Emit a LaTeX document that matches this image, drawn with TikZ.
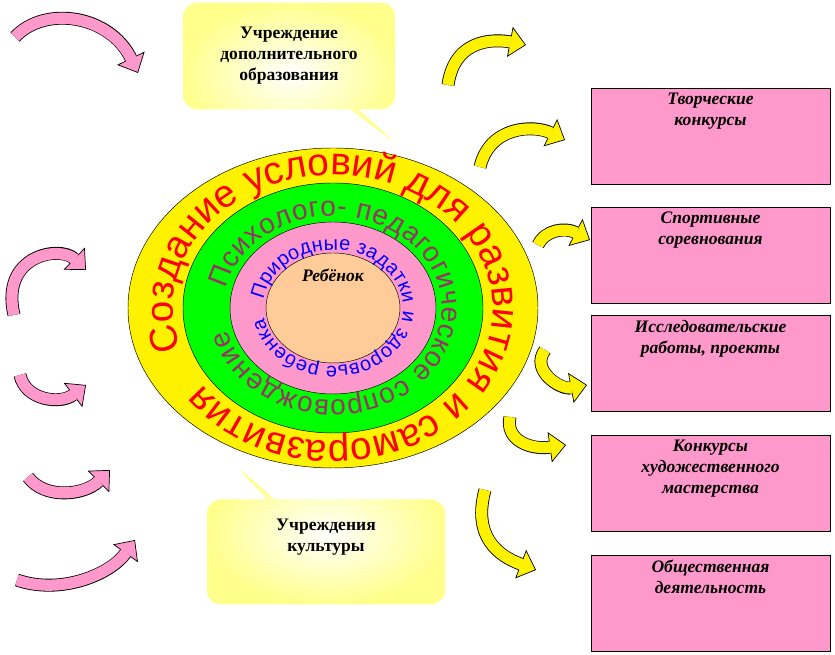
\documentclass[tikz,border=0pt]{standalone}
\usepackage{fontspec}
\setmainfont{Liberation Serif}
\newfontfamily\arialfont{Liberation Sans}
\usetikzlibrary{arrows.meta,shapes.callouts,decorations.text,positioning}
\definecolor{ringpink}{HTML}{FF99CC}
\definecolor{peach}{HTML}{FFCC99}
\definecolor{olive}{HTML}{CCCC00}
\definecolor{textpurple}{HTML}{993366}
\tikzset{
  pbox/.style={draw,fill=ringpink,minimum width=7.17cm,minimum height=2.88cm},
  btext/.style={font=\bfseries\itshape\fontsize{15}{18}\selectfont,align=center,inner sep=2pt},
  bubble/.style={rectangle callout,draw=none,rounded corners=12pt,inner color=white,outer color=yellow!45,font=\bfseries\fontsize{15}{18}\selectfont,align=center},
}
\newcommand\bentarrow[2]{%
  \draw[line width=11pt,-{Triangle[width=26pt,length=14pt,line width=0.6pt,fill=#1]}] #2;
  \draw[#1,line width=9.6pt,shorten >=13pt] #2;}
\begin{document}
\begin{tikzpicture}[x=0.03cm,y=0.03cm]
\useasboundingbox (0,0) rectangle (835,655);
\coordinate (C) at (333,347);
% rings
\draw[fill=yellow] (C) ellipse[x radius=205,y radius=160];
\draw[fill=green] (C) ellipse[x radius=150,y radius=125];
\draw[fill=ringpink] (C) ellipse[x radius=103,y radius=86];
\draw[fill=peach] (C) ellipse[x radius=67,y radius=55];
\node[font=\bfseries\itshape\fontsize{15}{18}\selectfont] (child) at (333,380) {Ребёнок};
\path[decorate,decoration={text along path,text align=fit to path,text color=red,
  text={|\arialfont\fontsize{33}{33}\selectfont|Создание условий для развития и саморазвития}}]
  (C) ++(198:160 and 133) arc[start angle=198,end angle=-145,x radius=160,y radius=133];
\path[decorate,decoration={text along path,text align=fit to path,text color=textpurple,
  text={|\arialfont\fontsize{24}{24}\selectfont|Психолого- педагогическое сопровождение}}]
  (C) ++(168:109 and 92) arc[start angle=168,end angle=-166,x radius=109,y radius=92];
\path[decorate,decoration={text along path,text align=fit to path,text color=blue,
  text={|\arialfont\fontsize{17}{17}\selectfont|Природные задатки и здоровье ребенка}}]
  (C) ++(172:70 and 58) arc[start angle=172,end angle=-170,x radius=70,y radius=58];
% callouts
\node[bubble,minimum width=6.36cm,minimum height=3.2cm,callout absolute pointer={(398,510)}] (dop) at (289,599) {Учреждение\\дополнительного\\образования};
\node[bubble,minimum width=7.14cm,minimum height=3.15cm,callout absolute pointer={(235,190)}] (kult) at (326,103) {Учреждения\\культуры\\[10pt]};
% right boxes
\node[pbox] (tvor) at (710.5,519) {};
\node[btext,below=2pt of tvor.north] {Творческие\\конкурсы};
\node[pbox] (sport) at (710.5,399.5) {};
\node[btext,below=2pt of sport.north] {Спортивные\\соревнования};
\node[pbox] (issl) at (710.5,291.5) {};
\node[btext,below=2pt of issl.north] {Исследовательские\\работы, проекты};
\node[pbox] (konk) at (710.5,171.5) {};
\node[btext,below=2pt of konk.north] {Конкурсы\\художественного\\мастерства};
\node[pbox] (obsh) at (710.5,51.5) {};
\node[btext,below=2pt of obsh.north] {Общественная\\деятельность};
% left arrows
\bentarrow{ringpink}{(15,618) .. controls (45,650) and (110,640) .. (138,582)}
\bentarrow{ringpink}{(14,340) .. controls (0,400) and (60,410) .. (86,385)}
\bentarrow{ringpink}{(20,280) .. controls (25,255) and (60,250) .. (86,270)}
\bentarrow{ringpink}{(28,178) .. controls (45,155) and (85,160) .. (110,185)}
\bentarrow{ringpink}{(17,75) .. controls (60,60) and (110,80) .. (135,115)}
% right arrows
\bentarrow{yellow}{(448,570) .. controls (455,620) and (500,615) .. (526,610)}
\bentarrow{yellow}{(480,488) .. controls (490,530) and (535,530) .. (565,515)}
\bentarrow{yellow}{(538,410) .. controls (545,425) and (565,428) .. (590,415)}
\bentarrow{yellow}{(545,305) .. controls (530,285) and (560,265) .. (587,270)}
\bentarrow{yellow}{(510,238) .. controls (505,215) and (530,205) .. (566,210)}
\bentarrow{yellow}{(485,165) .. controls (470,110) and (510,95) .. (536,85)}
\end{tikzpicture}
\end{document}
